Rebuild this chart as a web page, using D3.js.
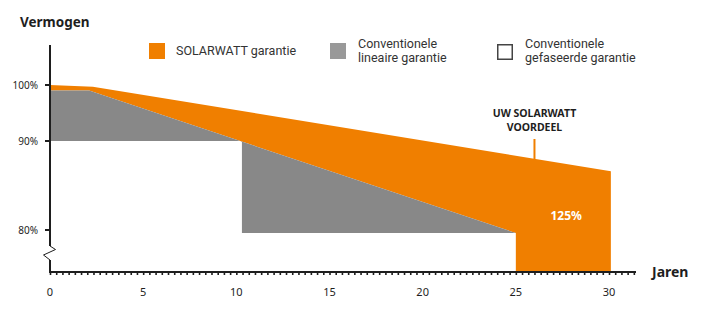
<!DOCTYPE html>
<html>
<head>
<meta charset="utf-8">
<script src="https://cdn.jsdelivr.net/npm/d3@7"></script>
<style>
  body { margin: 0; background: #fff; }
  svg { font-family: "Noto Sans", "Open Sans", sans-serif; }
</style>
</head>
<body>
<svg width="722" height="324"></svg>
<script>
// data (years, % of power)
var swYears = [0, 2.3, 30.1];
var swValues = [100, 99.7, 86.6];
var linYears = [0, 2.1, 25];
var linValues = [99, 99, 79.66];
var phaseYears = [0, 10.3, 10.3, 25];
var phaseValues = [90, 90, 79.66, 79.66];
var yTicks = [100, 90, 80];
var yTickLabels = ["100%", "90%", "80%"];
var xTicks = [0, 5, 10, 15, 20, 25, 30];
var legendLabels = [["SOLARWATT garantie"], ["Conventionele", "lineaire garantie"], ["Conventionele", "gefaseerde garantie"]];
var advantageYear = 26;
var advantageLabel = ["UW SOLARWATT", "VOORDEEL"];
var gainYear = 27.7;
var gainLabel = "125%";

var svg = d3.select("svg");
var orange = "#f07f00", grey = "#888888", ink = "#1e1e1e";

var baseY = 272, topY = 45;
var x = d3.scaleLinear().domain([0, 30]).range([50, 609]);
// broken scale: 100-90 squeezed, 90-80 stretched
var y = d3.scaleLinear().domain([80, 90, 100]).range([230, 141, 85]);

var sw = swYears.map((t, i) => ({ t: t, v: swValues[i] }));
var lin = linYears.map((t, i) => ({ t: t, v: linValues[i] }));
var phase = phaseYears.map((t, i) => ({ t: t, v: phaseValues[i] }));
var vBase = y.invert(baseY);

var line = d3.line().x(d => x(d.t)).y(d => y(d.v));

// advantage marker (drawn first, orange covers the foot)
svg.append("line")
    .attr("x1", x(advantageYear)).attr("x2", x(advantageYear))
    .attr("y1", 139).attr("y2", 175)
    .attr("stroke", orange).attr("stroke-width", 2);

// orange: between solarwatt and linear, down to base after 25y
var orangePoly = sw.concat([
    { t: swYears[swYears.length - 1], v: vBase },
    { t: linYears[linYears.length - 1], v: vBase }
]).concat(lin.slice().reverse());
svg.append("path").attr("d", line(orangePoly) + "Z").attr("fill", orange);

// grey: between linear and phased
var greyPoly = lin.concat(phase.slice().reverse());
svg.append("path").attr("d", line(greyPoly) + "Z").attr("fill", grey);

// y axis with break
svg.append("path")
    .attr("d", "M50," + topY + "V246 M50,260V" + (baseY + 1))
    .attr("stroke", ink).attr("stroke-width", 2).attr("fill", "none");
svg.append("path")
    .attr("d", "M50,246L55.5,249.5L43.5,255L50,260")
    .attr("stroke", ink).attr("stroke-width", 1).attr("fill", "none");

yTicks.forEach((v, i) => {
    svg.append("line").attr("x1", 45).attr("x2", 50)
        .attr("y1", y(v)).attr("y2", y(v))
        .attr("stroke", ink).attr("stroke-width", 2);
    svg.append("text").attr("x", 38).attr("y", y(v)).attr("dy", "0.35em")
        .attr("text-anchor", "end").attr("font-size", 10).attr("fill", ink)
        .text(yTickLabels[i]);
});

// x axis: fine ticks + labels
var xAxisG = svg.append("g").attr("transform", "translate(0," + baseY + ")");
xAxisG.call(d3.axisBottom(x).tickValues(d3.range(0, 31.6, 1 / 3)).tickSize(3).tickFormat(""));
xAxisG.selectAll(".tick line").attr("stroke", ink).attr("stroke-width", 1.6);
xAxisG.select(".domain").remove();
xAxisG.append("line").attr("x1", 49).attr("x2", 636).attr("stroke", ink).attr("stroke-width", 2);

svg.append("g").selectAll("text").data(xTicks).join("text")
    .attr("x", d => x(d)).attr("y", 296)
    .attr("text-anchor", "middle").attr("font-size", 11).attr("fill", ink)
    .text(d => d);

// axis titles
svg.append("text").attr("x", 20).attr("y", 27)
    .attr("font-size", 13.5).attr("font-weight", "bold").attr("fill", ink).text("Vermogen");
svg.append("text").attr("x", 652).attr("y", 277)
    .attr("font-size", 14).attr("font-weight", "bold").attr("fill", ink).text("Jaren");

// annotations
svg.append("text").attr("x", x(advantageYear)).attr("y", 117)
    .attr("text-anchor", "middle").attr("font-size", 10.5).attr("font-weight", "bold").attr("fill", ink)
    .selectAll("tspan").data(advantageLabel).join("tspan")
    .attr("x", x(advantageYear)).attr("dy", (d, i) => i ? 13.5 : 0).text(d => d);
svg.append("text").attr("x", x(gainYear)).attr("y", 220)
    .attr("text-anchor", "middle").attr("font-size", 12).attr("font-weight", "bold").attr("fill", "#fff")
    .text(gainLabel);

// legend
var legendX = [149, 330, 497];
var legendFill = [orange, "#999999", "#fff"];
legendLabels.forEach((lines, i) => {
    svg.append("rect").attr("x", legendX[i] + (i == 2 ? 0.75 : 0)).attr("y", 43 + (i == 2 ? 1.75 : 0))
        .attr("width", i == 2 ? 14.5 : 16).attr("height", i == 2 ? 14.5 : 16)
        .attr("fill", legendFill[i])
        .attr("stroke", i == 2 ? "#444" : "none").attr("stroke-width", 1.5);
    var tx = legendX[i] + (i == 0 ? 27 : 28);
    var top = lines.length == 1 ? 55 : 47.5;
    lines.forEach((s, j) => {
        svg.append("text").attr("x", tx).attr("y", top + j * 14)
            .attr("font-family", "Roboto").attr("font-size", 12.5).attr("fill", "#333")
            .text(s);
    });
});
</script>
</body>
</html>
